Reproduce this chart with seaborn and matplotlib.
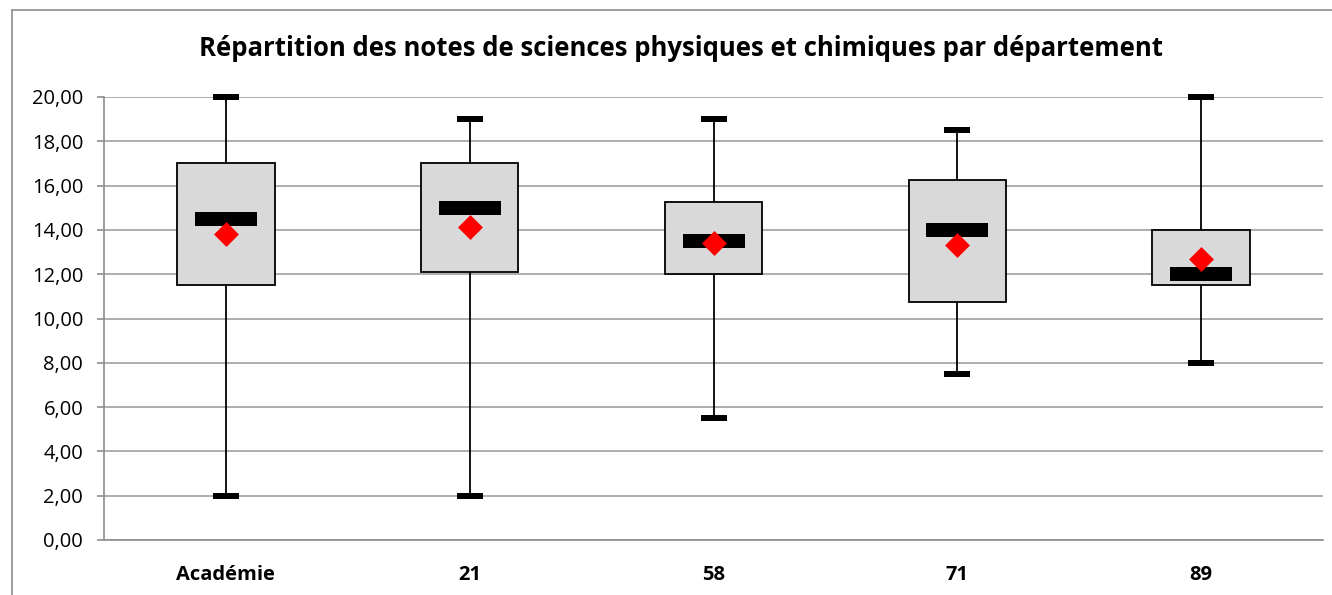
import numpy as np
import pandas as pd
import matplotlib
matplotlib.use("Agg")
import matplotlib.pyplot as plt
from matplotlib.lines import Line2D
from matplotlib.ticker import FuncFormatter, MultipleLocator
import seaborn as sns

# Résumé des notes par département
departements = ["Académie", "21", "58", "71", "89"]
minimums = [2.0, 2.0, 5.5, 7.5, 8.0]
q1 = [11.5, 12.1, 12.0, 10.75, 11.5]
medianes = [14.5, 15.0, 13.5, 14.0, 12.0]
q3 = [17.0, 17.0, 15.25, 16.25, 14.0]
maximums = [20.0, 19.0, 19.0, 18.5, 20.0]
moyennes = [13.8, 14.15, 13.4, 13.3, 12.67]

titre = "Répartition des notes de sciences physiques et chimiques par département"

# table longue: les 5 valeurs du résumé, les quartiles tombent pile dessus
rows = []
for i, d in enumerate(departements):
    for v in (minimums[i], q1[i], medianes[i], q3[i], maximums[i]):
        rows.append({"departement": d, "note": v})
df = pd.DataFrame(rows)

stats = pd.DataFrame({"departement": departements, "min": minimums,
                      "med": medianes, "max": maximums, "moy": moyennes})
caps = stats.melt(id_vars="departement", value_vars=["min", "max"], value_name="note")

sns.set_theme(style="white")
plt.rcParams["font.family"] = ["Open Sans", "DejaVu Sans"]
plt.rcParams["text.color"] = "black"

fig = plt.figure(figsize=(13.32, 5.95), dpi=100)
ax = fig.add_axes([104 / 1332, 1 - 540 / 595, (1323 - 104) / 1332, (540 - 97) / 595])

sns.boxplot(data=df, x="departement", y="note", order=departements, whis=(0, 100),
            width=0.4, color="#D9D9D9", saturation=1, linecolor="black", linewidth=1.3,
            showcaps=False, medianprops={"visible": False}, ax=ax)

# barres des extrêmes et de la médiane
cap_marker = [(-1, -0.23), (1, -0.23), (1, 0.23), (-1, 0.23)]
med_marker = [(-1, -0.21), (1, -0.21), (1, 0.21), (-1, 0.21)]
sns.stripplot(data=caps, x="departement", y="note", order=departements, jitter=False,
              marker=cap_marker, size=18.7, color="black", linewidth=0, zorder=5,
              clip_on=False, ax=ax)
sns.stripplot(data=stats, x="departement", y="med", order=departements, jitter=False,
              marker=med_marker, size=44.6, color="black", linewidth=0, zorder=5, ax=ax)
# moyennes
sns.stripplot(data=stats, x="departement", y="moy", order=departements, jitter=False,
              marker="D", size=12.7, color="red", linewidth=0, zorder=6, ax=ax)

ax.set_xlim(-0.5, 4.5)
ax.set_ylim(0, 20)
ax.yaxis.set_major_locator(MultipleLocator(2))
ax.yaxis.set_major_formatter(FuncFormatter(lambda v, p: f"{v:.2f}".replace(".", ",")))
ax.yaxis.grid(True, color="#A0A0A0", linewidth=1.2)
ax.set_axisbelow(True)
ax.set_xlabel("")
ax.set_ylabel("")

for s in ["top", "right"]:
    ax.spines[s].set_visible(False)
for s in ["left", "bottom"]:
    ax.spines[s].set_color("#8C8C8C")
    ax.spines[s].set_linewidth(1.2)

ax.tick_params(axis="y", left=True, length=5, width=1.2, color="#8C8C8C",
               pad=10, labelsize=14.5, labelcolor="black")
ax.tick_params(axis="x", bottom=False, pad=12, labelsize=14.5, labelcolor="black")
for lab in ax.get_xticklabels():
    lab.set_fontweight("bold")

fig.text(681 / 1332, 1 - 49 / 595, titre, ha="center", va="center",
         fontsize=18.5, fontweight="bold", color="black")

# cadre du graphique
fig.add_artist(Line2D([12 / 1332, 12 / 1332], [0, 1 - 10 / 595],
                      transform=fig.transFigure, color="#8C8C8C", linewidth=1.2))
fig.add_artist(Line2D([12 / 1332, 1], [1 - 10 / 595, 1 - 10 / 595],
                      transform=fig.transFigure, color="#8C8C8C", linewidth=1.2))

fig.savefig("out.png", dpi=100)
